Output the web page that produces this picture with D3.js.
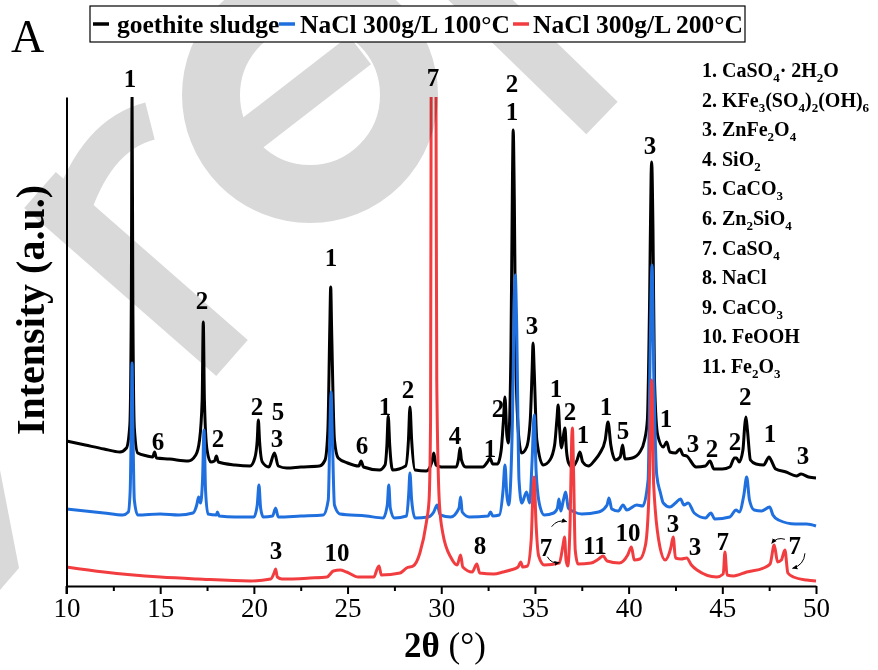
<!DOCTYPE html>
<html><head><meta charset="utf-8">
<script src="https://cdn.jsdelivr.net/npm/d3@7"></script>
<style>body{margin:0;background:#fff} svg{display:block}</style>
</head><body><svg id="c" width="878" height="670"></svg>
<script>
// ---------- DATA ----------
const seriesNames = ["goethite sludge", "NaCl 300g/L 100°C", "NaCl 300g/L 200°C"];
const seriesColors = ["#000000", "#1f6fde", "#f23d40"];

// [2θ, intensity (a.u.)]
const goethite = [
[10.0,145],[11.0,141],[12.0,137],[12.85,134],[13.2,138],[13.38,161],[13.46,286],[13.5,489],[13.54,286],[13.62,158],[13.8,133],
[14.3,130],[14.6,129],[14.7,134],[14.8,128],[15.5,127],[16.5,125],[16.9,131],[17.1,146],[17.24,186],[17.3,264],[17.36,186],[17.5,136],
[17.7,124],[17.9,125],[18.0,130],[18.1,124],[19.0,121],[19.8,120],[20.05,128],[20.18,146],[20.24,166],[20.3,146],[20.45,124],
[20.8,119],[21.1,133],[21.3,120],[21.75,118],[22.5,119],[23.5,120],[23.8,126],[23.95,156],[24.05,256],[24.1,299],[24.15,256],
[24.3,146],[24.5,128],[25.0,123],[25.6,120],[25.72,125],[25.85,119],[26.7,116],[27.0,121],[27.1,141],[27.17,170],[27.25,141],
[27.4,116],[28.1,120],[28.25,146],[28.33,179],[28.42,146],[28.6,116],[29.2,115],[29.5,124],[29.6,133],[29.72,121],[30.0,119],
[30.8,119],[30.93,128],[31.0,138],[31.08,126],[31.3,119],[32.2,119],[32.5,125],[32.6,128],[32.75,122],[33.0,122],[33.2,136],
[33.32,166],[33.4,189],[33.5,151],[33.58,143],[33.72,236],[33.8,406],[33.84,456],[33.9,386],[33.98,226],[34.15,146],[34.29,133],
[34.56,139],[34.75,166],[34.85,216],[34.9,243],[34.96,216],[35.1,146],[35.44,121],[35.8,126],[36.05,141],[36.17,166],[36.24,181],
[36.32,156],[36.42,138],[36.55,154],[36.6,158],[36.68,136],[36.8,123],[37.0,119],[37.25,126],[37.4,134],[37.55,124],[37.85,120],
[38.2,126],[38.47,133],[38.75,146],[38.9,164],[39.05,141],[39.3,126],[39.55,129],[39.68,141],[39.8,127],[40.2,128],[40.6,134],
[40.85,146],[41.0,166],[41.12,286],[41.2,411],[41.23,424],[41.3,356],[41.38,206],[41.55,151],[41.85,139],[42.03,144],[42.2,134],
[42.5,133],[42.74,137],[42.9,131],[43.1,130],[43.6,119],[44.1,120],[44.34,125],[44.55,117],[45.0,117],[45.4,119],[45.65,128],
[45.76,128],[45.9,124],[46.1,136],[46.2,161],[46.26,169],[46.34,156],[46.5,126],[46.8,122],[47.2,121],[47.5,129],[47.6,126],
[47.85,117],[48.4,114],[48.96,110],[49.2,112],[49.6,109],[50.0,108]
];

const nacl100 = [
[10.0,77],[11.0,75],[12.0,73],[13.0,71],[13.3,74],[13.4,96],[13.46,166],[13.5,223],[13.54,166],[13.62,86],[13.8,71],
[15.0,72],[16.0,71],[16.75,73],[16.95,81],[17.05,89],[17.15,83],[17.26,106],[17.34,156],[17.42,96],[17.55,72],[18.0,71],
[18.05,74],[18.15,70],[19.0,69],[20.0,69],[20.18,81],[20.27,101],[20.36,78],[20.5,69],[21.0,70],[21.16,78],[21.3,69],
[22.5,70],[23.7,71],[23.97,86],[24.07,166],[24.12,194],[24.18,156],[24.3,81],[24.6,72],[26.0,70],[26.9,68],[27.12,81],
[27.2,101],[27.28,78],[27.5,68],[28.15,70],[28.26,91],[28.33,113],[28.42,86],[28.6,68],[29.3,69],[29.6,74],[29.78,81],
[29.95,71],[30.5,69],[30.95,78],[31.03,89],[31.12,74],[31.5,69],[32.5,70],[32.63,74],[32.75,70],[33.1,71],[33.3,96],
[33.4,121],[33.5,91],[33.6,81],[33.8,166],[33.9,286],[33.95,311],[34.02,266],[34.15,106],[34.3,83],[34.55,94],[34.72,83],
[34.85,126],[34.96,171],[35.06,116],[35.25,81],[35.5,71],[36.0,73],[36.2,78],[36.28,87],[36.38,75],[36.52,86],[36.64,94],
[36.78,78],[37.1,74],[37.5,72],[38.4,74],[38.85,81],[38.95,88],[39.1,77],[39.45,75],[39.7,81],[39.9,76],[40.43,81],
[40.75,80],[41.04,106],[41.15,236],[41.25,321],[41.35,206],[41.5,111],[41.7,93],[41.85,83],[42.2,79],[42.5,83],[42.77,87],
[42.95,81],[43.18,83],[43.5,73],[44.1,68],[44.39,73],[44.6,67],[45.4,69],[45.73,76],[45.9,74],[46.15,91],[46.3,109],
[46.45,86],[46.7,76],[47.1,75],[47.53,79],[47.7,71],[48.0,66],[48.9,62],[49.5,62],[50.0,60]
];

const nacl200 = [
[10.0,19],[12.0,14],[15.0,9],[17.0,7],[19.8,5],[20.9,7],[21.1,14],[21.16,17],[21.25,9],[21.5,7],[23.0,8],[23.9,9],
[24.24,15],[24.6,16],[24.95,14],[25.57,9],[26.4,9],[26.6,18],[26.68,20],[26.8,11],[27.8,13],[28.15,18],[28.5,20],
[28.86,33],[29.2,63],[29.35,86],[29.43,166],[29.46,489],[29.59,1400],[29.72,489],[29.76,206],[29.9,83],[30.08,53],
[30.53,28],[30.85,21],[31.03,31],[31.15,19],[31.65,14],[31.9,22],[32.05,13],[32.8,12],[33.3,14],[33.7,16],[34.1,19],
[34.24,24],[34.35,19],[34.6,20],[34.8,46],[34.9,96],[34.96,109],[35.05,66],[35.2,30],[35.5,21],[36.3,23],[36.5,41],
[36.58,49],[36.66,26],[36.75,20],[36.88,66],[36.96,146],[37.0,158],[37.06,116],[37.15,36],[37.3,22],[38.0,23],[38.4,27],
[38.64,30],[38.85,25],[39.5,23],[39.95,31],[40.15,39],[40.3,26],[40.6,27],[40.9,41],[41.1,100],[41.23,206],[41.34,100],
[41.67,39],[41.95,26],[42.25,38],[42.38,49],[42.5,28],[42.8,27],[43.1,28],[43.35,21],[43.65,16],[44.7,9],[45.05,12],
[45.14,34],[45.25,11],[45.6,10],[46.3,14],[47.2,18],[47.55,22],[47.77,41],[47.95,24],[48.15,26],[48.34,36],[48.5,13],
[48.8,9],[49.5,6],[50.0,5]
];

const xTicks = [10, 15, 20, 25, 30, 35, 40, 45, 50];
const xMinorTicks = [12.5, 17.5, 22.5, 27.5, 32.5, 37.5, 42.5, 47.5];

// peak labels [2θ, intensity, text]
const blackPeakLabels = [
[13.39,508,"1"],[14.88,145,"6"],[17.23,286,"2"],[18.09,148,"2"],[20.17,180,"2"],[21.29,175,"5"],[21.23,148,"3"],
[24.12,329,"1"],[25.77,141,"6"],[27.0,180,"1"],[28.22,197,"2"],[30.73,151,"4"],[32.6,138,"1"],[33.03,178,"2"],
[33.77,503,"2"],[33.77,475,"1"],[34.84,261,"3"],[36.12,198,"1"],[36.87,175,"2"],[37.56,152,"1"],[38.79,180,"1"],
[39.7,156,"5"],[41.14,441,"3"],[41.99,168,"1"],[43.43,143,"3"],[44.45,138,"2"],[45.68,145,"2"],[46.22,190,"2"],
[47.55,153,"1"],[49.3,131,"3"]
];
const redPeakLabels = [
[21.18,36,"3"],[24.43,34,"10"],[29.56,509,"7"],[32.07,41,"8"],[35.59,39,"7"],[38.2,41,"11"],[39.97,54,"10"],
[42.37,63,"3"],[43.54,40,"3"],[45.03,45,"7"],[48.87,41,"7"]
];
// curved arrows [from2θ, fromI, to2θ, toI, bend]
const arrows = [
[35.89,59.3,36.69,64.3,-1],[35.66,29.3,36.3,23.3,1],[48.34,46.7,47.64,42.7,1],[49.41,32.7,48.75,17.7,-1]
];
const phases = ["CaSO_4· 2H_2O","KFe_3(SO_4)_2(OH)_6","ZnFe_2O_4","SiO_2","CaCO_3","Zn_2SiO_4","CaSO_4","NaCl","CaCO_3","FeOOH","Fe_2O_3"];

// ---------- CHART ----------
const FONT = '"Liberation Serif", "DejaVu Serif", "Noto Serif", serif';
const svg = d3.select("#c").attr("font-family", FONT);
const m = {left: 66.5, right: 816, top: 97, bottom: 586};
const x = d3.scaleLinear().domain([10, 50]).range([m.left, m.right]);
const y = d3.scaleLinear().domain([0, 489]).range([m.bottom, m.top]);

const defs = svg.append("defs");
defs.append("clipPath").attr("id","clip")
  .append("rect").attr("x", m.left).attr("y", m.top).attr("width", m.right - m.left + 2).attr("height", m.bottom - m.top);
defs.append("marker").attr("id","ah").attr("viewBox","0 0 10 10").attr("refX",8).attr("refY",5)
  .attr("markerWidth",6).attr("markerHeight",6).attr("orient","auto")
  .append("path").attr("d","M0,1 L9,5 L0,9 Z").attr("fill","#000");

const line = d3.line().x(d => x(d[0])).y(d => y(d[1])).curve(d3.curveMonotoneX);
const gPlot = svg.append("g").attr("clip-path","url(#clip)");
[goethite, nacl100, nacl200].forEach((s, i) => {
  gPlot.append("path").datum(s).attr("d", line).attr("fill","none")
    .attr("stroke", seriesColors[i]).attr("stroke-width", 3).attr("stroke-linejoin","round");
});

// faint diagonal watermark (overlay)
const wm = svg.append("g").attr("fill","none").attr("stroke","rgba(0,0,0,0.15)").attr("stroke-linecap","butt");
const wmShape = svg.append("g").style("mix-blend-mode","multiply");
wmShape.append("circle").attr("cx",310).attr("cy",95).attr("r",99).attr("fill","none").attr("stroke","#d9d9d9").attr("stroke-width",58);
wmShape.append("line").attr("x1",250).attr("y1",135).attr("x2",360).attr("y2",50).attr("stroke","#d9d9d9").attr("stroke-width",36);
wmShape.append("line").attr("x1",460).attr("y1",-20).attr("x2",602).attr("y2",118).attr("stroke","#d9d9d9").attr("stroke-width",45);
wmShape.append("line").attr("x1",40).attr("y1",190).attr("x2",232).attr("y2",358).attr("stroke","#d9d9d9").attr("stroke-width",48);
wmShape.append("path").attr("d","M150,121 Q95,135 70,215").attr("fill","none").attr("stroke","#d9d9d9").attr("stroke-width",38);
wmShape.append("path").attr("d","M0,470 L19,568 L0,590 Z").attr("fill","#d9d9d9");

// axes
const xAxis = d3.axisBottom(x).tickValues(xTicks).tickSize(8).tickSizeOuter(0).tickFormat(d3.format("d"));
const gx = svg.append("g").attr("transform", `translate(0,${m.bottom})`).call(xAxis).attr("font-family", FONT);
gx.select(".domain").attr("stroke","#000").attr("stroke-width",2);
gx.selectAll(".tick line").attr("stroke","#000").attr("stroke-width",2);
gx.selectAll(".tick text").attr("font-size",27).attr("fill","#000").attr("dy","0.35em").attr("y",22)
  .attr("font-family", FONT);
const gxm = svg.append("g").attr("transform", `translate(0,${m.bottom})`)
  .call(d3.axisBottom(x).tickValues(xMinorTicks).tickSize(5).tickFormat(""));
gxm.select(".domain").remove();
gxm.selectAll(".tick line").attr("stroke","#000").attr("stroke-width",2);
gxm.selectAll(".tick text").remove();

const gy = svg.append("g").attr("transform", `translate(${m.left},0)`)
  .call(d3.axisLeft(y).tickValues([]).tickSizeOuter(0));
gy.select(".domain").attr("stroke","#000").attr("stroke-width",2);
svg.append("line").attr("x1",m.left).attr("x2",m.left).attr("y1",m.bottom).attr("y2",m.bottom+8)
  .attr("stroke","#000").attr("stroke-width",2);

// axis titles
const xt = svg.append("text").attr("x", 445).attr("y", 657).attr("text-anchor","middle").attr("font-size",35);
xt.append("tspan").attr("font-weight","bold").text("2θ");
xt.append("tspan").text(" (°)");
svg.append("text").attr("transform","translate(44,310) rotate(-90)").attr("text-anchor","middle")
  .attr("font-size",40).attr("font-weight","bold").text("Intensity (a.u.)");

// panel letter
svg.append("text").attr("x", 11).attr("y", 52).attr("font-size", 46).text("A");

// peak labels
const allLabels = blackPeakLabels.concat(redPeakLabels);
svg.append("g").selectAll("text").data(allLabels).join("text")
  .attr("x", d => x(d[0])).attr("y", d => y(d[1]) + 9).attr("text-anchor","middle")
  .attr("font-size", 25).attr("font-weight","bold").text(d => d[2]);

// arrows
svg.append("g").selectAll("path").data(arrows).join("path")
  .attr("d", d => {
    const x1 = x(d[0]), y1 = y(d[1]), x2 = x(d[2]), y2 = y(d[3]);
    const mx = (x1 + x2) / 2, my = (y1 + y2) / 2;
    const dx = x2 - x1, dy = y2 - y1, len = Math.hypot(dx, dy);
    const k = 0.35 * len * d[4];
    const cx = mx - dy / len * k, cy = my + dx / len * k;
    return `M${x1},${y1} Q${cx},${cy} ${x2},${y2}`;
  })
  .attr("fill","none").attr("stroke","#000").attr("stroke-width",1).attr("marker-end","url(#ah)");

// legend
const lg = svg.append("g");
lg.append("rect").attr("x",90).attr("y",6).attr("width",655).attr("height",36).attr("fill","#fff").attr("stroke","#000").attr("stroke-width",1.2);
const legendLineX = [93, 279, 513];
const legendTextX = [117, 300, 533];
seriesNames.forEach((n, i) => {
  lg.append("line").attr("x1", legendLineX[i]).attr("x2", legendLineX[i] + 16).attr("y1", 24).attr("y2", 24)
    .attr("stroke", seriesColors[i]).attr("stroke-width", 3.5);
  lg.append("text").attr("x", legendTextX[i]).attr("y", 33).attr("font-size", 25.5).attr("font-weight","bold").text(n);
});

// phase list
const pl = svg.append("g");
phases.forEach((p, i) => {
  const t = pl.append("text").attr("x", 702).attr("y", 77 + i * 29.6).attr("font-size", 20).attr("font-weight","bold");
  t.append("tspan").text((i + 1) + ". ");
  const parts = p.split(/(_\d)/).filter(s => s.length);
  let shifted = false;
  parts.forEach(part => {
    if (part.startsWith("_")) {
      t.append("tspan").attr("font-size", 13).attr("dy", shifted ? 0 : 5).text(part.slice(1));
      shifted = true;
    } else {
      t.append("tspan").attr("dy", shifted ? -5 : 0).text(part);
      shifted = false;
    }
  });
});
</script></body></html>
